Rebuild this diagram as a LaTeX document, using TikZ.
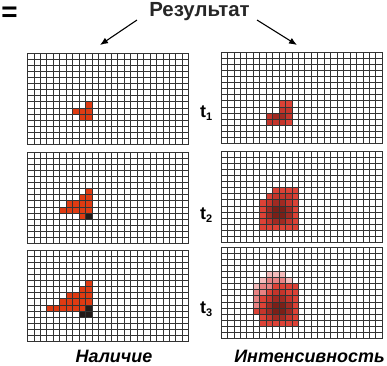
\documentclass[tikz,border=0pt]{standalone}
\usepackage{fontspec}
\setmainfont{Liberation Sans}
\usepackage{tikz}
\usetikzlibrary{arrows.meta}
\definecolor{PresRed}{HTML}{DF3B12}
\definecolor{PresDark}{HTML}{231A18}
\definecolor{IntA}{HTML}{F4BCBC}
\definecolor{IntB}{HTML}{E88282}
\definecolor{IntC}{HTML}{DC4236}
\definecolor{IntD}{HTML}{C4352B}
\definecolor{IntE}{HTML}{A02A22}
\definecolor{IntF}{HTML}{7A2018}
\newcommand\cellw{6.45}
\newcommand\cellh{6.1}
\newcommand\gridbox{%
  \foreach \i in {0,...,25} \draw[gline] (\i*\cellw,0) -- (\i*\cellw,15*\cellh);
  \foreach \j in {0,...,15} \draw[gline] (0,\j*\cellh) -- (25*\cellw,\j*\cellh);}
\newcommand\paintcells[1]{%
  \foreach \c/\r/\col in {#1} \fill[fill=\col] (\c*\cellw,\r*\cellh) rectangle ++(\cellw,\cellh);}

\begin{document}
\begin{tikzpicture}[x=1bp,y=-1bp,
  gline/.style={line width=0.75bp,black!80},
  arr/.style={-{Latex[length=8bp,width=6.5bp]},line width=1.1bp},
  title/.style={font=\bfseries\fontsize{20.5}{22}\selectfont,text=black!85},
  tlab/.style={font=\bfseries\fontsize{18}{20}\selectfont,anchor=base west,inner sep=0pt},
  caption/.style={font=\bfseries\itshape\fontsize{18}{20}\selectfont,anchor=base,inner sep=0pt}]
  \useasboundingbox (0,0) rectangle (387,366);
  \node[font=\bfseries\fontsize{28}{28}\selectfont,inner sep=0pt] (eq) at (9.5,14) {=};
  \node[title] (res) at (199.5,11.5) {Результат};
  \coordinate (resl) at (137,20);
  \coordinate (resr) at (257,20);
  \coordinate (pres) at (100,45);
  \coordinate (intens) at (297,45);
  \draw[arr] (resl) -- (pres);
  \draw[arr] (resr) -- (intens);
  \begin{scope}[shift={(27.5,53)}]
    \paintcells{9/8/PresRed,7/9/PresRed,8/9/PresRed,9/9/PresRed,8/10/PresRed,9/10/PresRed}
    \gridbox
  \end{scope}
  \begin{scope}[shift={(27.5,152)}]
    \paintcells{9/6/PresRed,8/7/PresRed,9/7/PresRed,6/8/PresRed,7/8/PresRed,8/8/PresRed,9/8/PresRed,
      5/9/PresRed,6/9/PresRed,7/9/PresRed,8/9/PresRed,9/9/PresRed,8/10/PresRed,9/10/PresDark}
    \gridbox
  \end{scope}
  \begin{scope}[shift={(27.5,250)}]
    \paintcells{9/5/PresRed,8/6/PresRed,9/6/PresRed,6/7/PresRed,7/7/PresRed,8/7/PresRed,9/7/PresRed,
      5/8/PresRed,6/8/PresRed,7/8/PresRed,8/8/PresRed,9/8/PresRed,
      3/9/PresRed,4/9/PresRed,5/9/PresRed,6/9/PresRed,7/9/PresRed,8/9/PresRed,9/9/PresDark,
      8/10/PresDark,9/10/PresDark}
    \gridbox
  \end{scope}
  \begin{scope}[shift={(221,52)}]
    \paintcells{9/8/IntC,10/8/IntC,9/9/IntD,10/9/IntD,
      7/10/IntD,8/10/IntE,9/10/IntE,10/10/IntD,7/11/IntD,8/11/IntD,9/11/IntD,10/11/IntC}
    \gridbox
  \end{scope}
  \begin{scope}[shift={(221,151)}]
    \paintcells{8/6/IntC,9/6/IntC,10/6/IntC,11/6/IntC,
      7/7/IntC,8/7/IntD,9/7/IntD,10/7/IntD,11/7/IntC,
      6/8/IntC,7/8/IntD,8/8/IntE,9/8/IntE,10/8/IntD,11/8/IntC,
      6/9/IntC,7/9/IntE,8/9/IntF,9/9/IntF,10/9/IntE,11/9/IntC,
      6/10/IntC,7/10/IntE,8/10/IntF,9/10/IntF,10/10/IntE,11/10/IntC,
      6/11/IntC,7/11/IntD,8/11/IntE,9/11/IntE,10/11/IntD,11/11/IntC,
      6/12/IntC,7/12/IntC,8/12/IntC,9/12/IntC,10/12/IntC,11/12/IntC}
    \gridbox
  \end{scope}
  \begin{scope}[shift={(221,247)}]
    \paintcells{7/4/IntA,8/4/IntA,9/4/IntA,
      6/5/IntA,7/5/IntB,8/5/IntB,9/5/IntB,10/5/IntA,
      5/6/IntA,6/6/IntB,7/6/IntB,8/6/IntC,9/6/IntC,10/6/IntC,11/6/IntC,
      5/7/IntB,6/7/IntB,7/7/IntC,8/7/IntD,9/7/IntD,10/7/IntC,11/7/IntC,
      5/8/IntB,6/8/IntC,7/8/IntD,8/8/IntE,9/8/IntE,10/8/IntD,11/8/IntC,
      5/9/IntB,6/9/IntC,7/9/IntE,8/9/IntF,9/9/IntF,10/9/IntE,11/9/IntC,
      5/10/IntC,6/10/IntD,7/10/IntE,8/10/IntF,9/10/IntF,10/10/IntE,11/10/IntC,
      6/11/IntC,7/11/IntD,8/11/IntE,9/11/IntE,10/11/IntD,11/11/IntC,
      6/12/IntC,7/12/IntC,8/12/IntC,9/12/IntC,10/12/IntC,11/12/IntC}
    \gridbox
  \end{scope}
  \node[tlab] (t1) at (200,117) {t\raisebox{-3bp}{\fontsize{11}{12}\selectfont 1}};
  \node[tlab] (t2) at (200,219) {t\raisebox{-3bp}{\fontsize{11}{12}\selectfont 2}};
  \node[tlab] (t3) at (200,313) {t\raisebox{-3bp}{\fontsize{11}{12}\selectfont 3}};
  \node[caption] (nal) at (114,362) {Наличие};
  \node[caption] (int) at (309.5,362) {Интенсивность};
\end{tikzpicture}
\end{document}
